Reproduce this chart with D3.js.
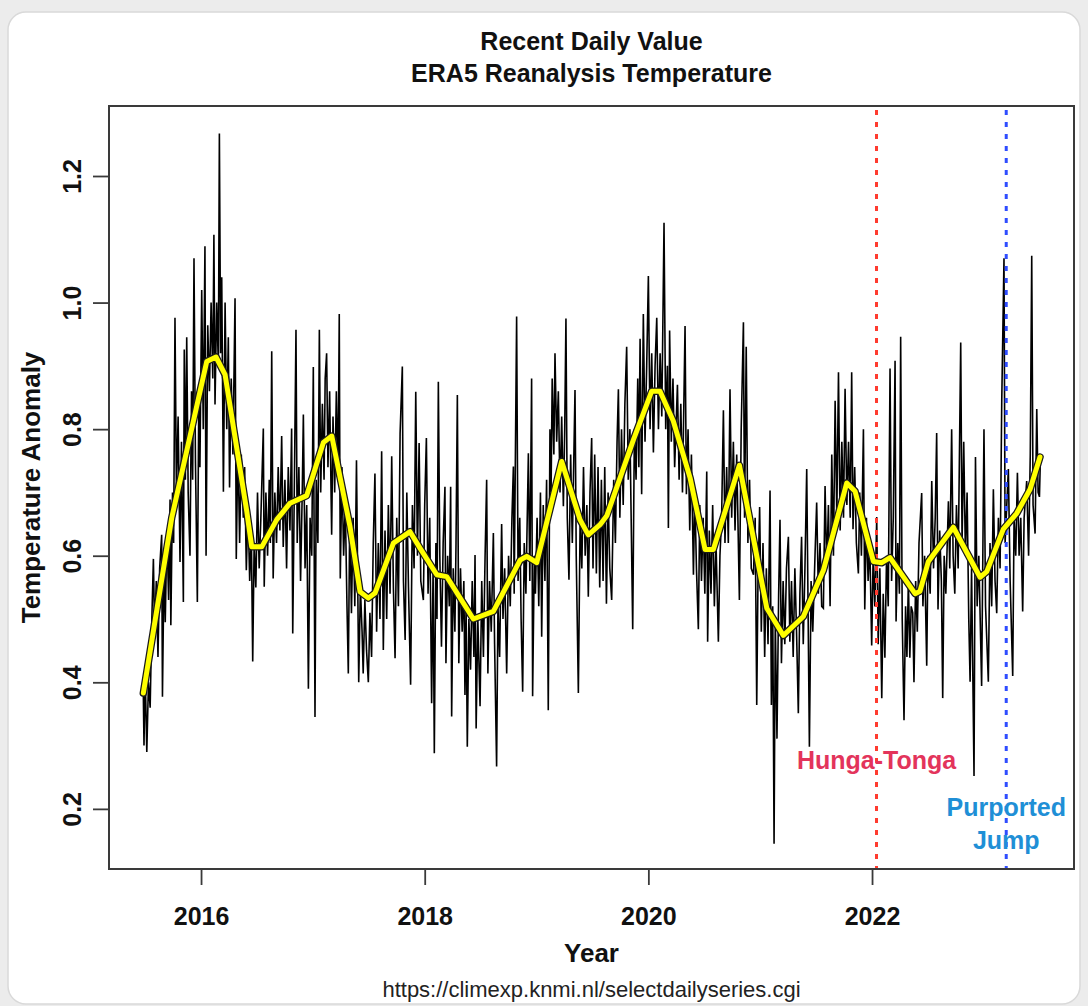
<!DOCTYPE html>
<html>
<head>
<meta charset="utf-8">
<script src="https://cdn.jsdelivr.net/npm/d3@7"></script>
<style>
  html, body { margin: 0; padding: 0; background: #ececec; }
  svg { display: block; }
</style>
</head>
<body>
<svg id="chart" width="1088" height="1006"></svg>
<script>
// ---------- data ----------
const titleLines = ["Recent Daily Value", "ERA5 Reanalysis Temperature"];
const xLabel = "Year";
const yLabel = "Temperature Anomaly";
const sourceText = "https://climexp.knmi.nl/selectdailyseries.cgi";
const xTicks = [2016, 2018, 2020, 2022];
const yTicks = [0.2, 0.4, 0.6, 0.8, 1.0, 1.2];
const events = [
  { year: 2022.04, label: ["Hunga-Tonga"], line: "#ff3b2f", text: "#e3345b" },
  { year: 2023.20, label: ["Purported", "Jump"], line: "#2f4dff", text: "#1f8fd6" }
];

// daily anomaly (decimal year, value), peaks and troughs read per year
const daily2015 = [[2015.484,0.38],[2015.49,0.30],[2015.50,0.42],[2015.515,0.29],[2015.53,0.40],[2015.545,0.36],[2015.56,0.50],[2015.574,0.595],[2015.585,0.477],[2015.60,0.56],[2015.615,0.44],[2015.63,0.58],[2015.648,0.633],[2015.655,0.377],[2015.67,0.60],[2015.68,0.495],[2015.695,0.64],[2015.71,0.53],[2015.723,0.689],[2015.73,0.49],[2015.745,0.70],[2015.755,0.62],[2015.767,0.976],[2015.78,0.70],[2015.795,0.82],[2015.812,0.59],[2015.825,0.78],[2015.842,0.527],[2015.85,0.926],[2015.86,0.72],[2015.872,0.945],[2015.885,0.70],[2015.901,0.60],[2015.915,0.86],[2015.925,0.72],[2015.937,1.07],[2015.95,0.75],[2015.967,0.527],[2015.98,0.85],[2015.99,0.74]];
const daily2016 = [[2016.006,1.02],[2016.02,0.80],[2016.035,1.089],[2016.045,0.60],[2016.06,0.964],[2016.075,0.86],[2016.09,1.00],[2016.105,0.88],[2016.115,1.107],[2016.125,0.839],[2016.14,1.00],[2016.155,0.90],[2016.164,1.267],[2016.175,0.92],[2016.185,1.04],[2016.20,0.701],[2016.215,1.00],[2016.23,0.80],[2016.244,0.945],[2016.255,0.708],[2016.27,0.88],[2016.285,0.76],[2016.304,1.007],[2016.315,0.595],[2016.33,0.78],[2016.345,0.62],[2016.36,0.76],[2016.378,0.66],[2016.39,0.74],[2016.405,0.577],[2016.42,0.68],[2016.435,0.56],[2016.45,0.633],[2016.462,0.433],[2016.475,0.62],[2016.49,0.55],[2016.505,0.70],[2016.52,0.58],[2016.535,0.66],[2016.557,0.801],[2016.565,0.551],[2016.58,0.70],[2016.595,0.60],[2016.61,0.72],[2016.62,0.62],[2016.632,0.923],[2016.645,0.564],[2016.66,0.70],[2016.675,0.62],[2016.69,0.74],[2016.705,0.64],[2016.721,0.789],[2016.735,0.614],[2016.75,0.72],[2016.765,0.58],[2016.78,0.74],[2016.795,0.64],[2016.81,0.801],[2016.82,0.477],[2016.835,0.72],[2016.849,0.957],[2016.86,0.62],[2016.875,0.74],[2016.89,0.56],[2016.905,0.70],[2016.915,0.823],[2016.93,0.58],[2016.945,0.68],[2016.96,0.39],[2016.975,0.66],[2016.99,0.60]];
const daily2017 = [[2017.004,0.898],[2017.019,0.345],[2017.03,0.72],[2017.045,0.62],[2017.058,0.957],[2017.07,0.70],[2017.085,0.84],[2017.10,0.72],[2017.11,0.88],[2017.123,0.92],[2017.135,0.74],[2017.15,0.86],[2017.168,0.633],[2017.18,0.82],[2017.195,0.70],[2017.21,0.86],[2017.225,0.72],[2017.236,0.982],[2017.245,0.564],[2017.26,0.74],[2017.275,0.60],[2017.29,0.68],[2017.305,0.52],[2017.317,0.414],[2017.33,0.667],[2017.345,0.509],[2017.36,0.66],[2017.375,0.52],[2017.39,0.751],[2017.41,0.40],[2017.425,0.55],[2017.44,0.48],[2017.45,0.414],[2017.465,0.53],[2017.48,0.45],[2017.496,0.40],[2017.51,0.51],[2017.525,0.44],[2017.54,0.62],[2017.555,0.73],[2017.57,0.48],[2017.585,0.62],[2017.60,0.50],[2017.615,0.765],[2017.63,0.451],[2017.645,0.64],[2017.66,0.50],[2017.675,0.68],[2017.69,0.54],[2017.705,0.757],[2017.72,0.55],[2017.735,0.438],[2017.75,0.66],[2017.765,0.52],[2017.78,0.793],[2017.80,0.899],[2017.81,0.56],[2017.825,0.467],[2017.84,0.70],[2017.855,0.55],[2017.874,0.396],[2017.89,0.68],[2017.905,0.58],[2017.92,0.859],[2017.935,0.60],[2017.95,0.778],[2017.965,0.56],[2017.988,0.53]];
const daily2018 = [[2018.0,0.68],[2018.015,0.786],[2018.03,0.54],[2018.045,0.66],[2018.062,0.367],[2018.075,0.58],[2018.086,0.288],[2018.10,0.62],[2018.11,0.50],[2018.122,0.875],[2018.135,0.60],[2018.15,0.456],[2018.165,0.62],[2018.181,0.709],[2018.19,0.43],[2018.205,0.60],[2018.22,0.52],[2018.232,0.709],[2018.241,0.346],[2018.255,0.58],[2018.27,0.48],[2018.28,0.62],[2018.292,0.854],[2018.305,0.43],[2018.32,0.58],[2018.335,0.48],[2018.35,0.56],[2018.36,0.38],[2018.37,0.52],[2018.381,0.298],[2018.395,0.50],[2018.41,0.42],[2018.425,0.56],[2018.44,0.44],[2018.45,0.601],[2018.46,0.327],[2018.475,0.50],[2018.495,0.362],[2018.51,0.56],[2018.525,0.44],[2018.54,0.60],[2018.554,0.72],[2018.565,0.414],[2018.58,0.56],[2018.595,0.48],[2018.614,0.636],[2018.625,0.46],[2018.643,0.267],[2018.655,0.52],[2018.67,0.44],[2018.688,0.65],[2018.70,0.50],[2018.715,0.58],[2018.733,0.414],[2018.75,0.60],[2018.765,0.52],[2018.78,0.66],[2018.793,0.741],[2018.80,0.54],[2018.822,0.978],[2018.835,0.56],[2018.85,0.66],[2018.862,0.50],[2018.876,0.385],[2018.89,0.62],[2018.905,0.54],[2018.927,0.762],[2018.94,0.56],[2018.956,0.88],[2018.965,0.378],[2018.98,0.60],[2018.99,0.54]];
const daily2019 = [[2019.005,0.66],[2019.02,0.52],[2019.035,0.70],[2019.046,0.472],[2019.06,0.68],[2019.075,0.56],[2019.09,0.72],[2019.105,0.356],[2019.12,0.80],[2019.13,0.70],[2019.14,0.88],[2019.155,0.76],[2019.165,0.92],[2019.18,0.78],[2019.195,0.86],[2019.21,0.70],[2019.225,0.82],[2019.24,0.678],[2019.252,0.80],[2019.263,0.975],[2019.275,0.66],[2019.29,0.562],[2019.305,0.76],[2019.32,0.62],[2019.344,0.862],[2019.355,0.60],[2019.374,0.383],[2019.39,0.66],[2019.405,0.58],[2019.42,0.74],[2019.435,0.60],[2019.45,0.68],[2019.463,0.535],[2019.478,0.70],[2019.493,0.786],[2019.505,0.58],[2019.52,0.76],[2019.535,0.572],[2019.55,0.74],[2019.565,0.55],[2019.58,0.72],[2019.595,0.56],[2019.61,0.74],[2019.625,0.524],[2019.64,0.70],[2019.655,0.58],[2019.672,0.53],[2019.69,0.72],[2019.705,0.62],[2019.72,0.78],[2019.732,0.863],[2019.745,0.66],[2019.76,0.80],[2019.775,0.68],[2019.79,0.84],[2019.806,0.93],[2019.82,0.72],[2019.835,0.80],[2019.86,0.484],[2019.875,0.80],[2019.89,0.72],[2019.905,0.88],[2019.915,0.74],[2019.926,0.943],[2019.94,0.697],[2019.955,0.982],[2019.97,0.78],[2019.985,0.90]];
const daily2020 = [[2020.0,1.042],[2020.015,0.80],[2020.03,0.92],[2020.045,0.763],[2020.06,0.90],[2020.075,0.976],[2020.09,0.80],[2020.105,0.92],[2020.12,0.82],[2020.14,1.126],[2020.155,0.80],[2020.17,0.90],[2020.179,0.644],[2020.19,0.956],[2020.205,0.78],[2020.22,0.88],[2020.235,0.74],[2020.26,0.87],[2020.275,0.72],[2020.29,0.84],[2020.305,0.70],[2020.328,0.963],[2020.34,0.697],[2020.355,0.80],[2020.37,0.64],[2020.385,0.76],[2020.403,0.57],[2020.415,0.70],[2020.43,0.58],[2020.447,0.484],[2020.46,0.68],[2020.475,0.56],[2020.49,0.66],[2020.505,0.54],[2020.522,0.733],[2020.53,0.464],[2020.545,0.64],[2020.56,0.54],[2020.575,0.68],[2020.59,0.52],[2020.605,0.62],[2020.626,0.464],[2020.64,0.60],[2020.655,0.66],[2020.671,0.83],[2020.685,0.62],[2020.70,0.74],[2020.715,0.62],[2020.73,0.863],[2020.745,0.66],[2020.76,0.78],[2020.775,0.64],[2020.79,0.76],[2020.814,0.53],[2020.83,0.80],[2020.85,0.969],[2020.86,0.66],[2020.875,0.93],[2020.89,0.62],[2020.905,0.72],[2020.92,0.58],[2020.94,0.57],[2020.955,0.66],[2020.969,0.364],[2020.98,0.56],[2020.995,0.677]];
const daily2021 = [[2021.01,0.48],[2021.025,0.62],[2021.04,0.44],[2021.055,0.58],[2021.07,0.46],[2021.088,0.703],[2021.10,0.364],[2021.112,0.52],[2021.124,0.145],[2021.135,0.50],[2021.15,0.311],[2021.165,0.54],[2021.177,0.657],[2021.19,0.43],[2021.205,0.56],[2021.22,0.46],[2021.235,0.58],[2021.252,0.63],[2021.265,0.464],[2021.28,0.56],[2021.295,0.44],[2021.31,0.58],[2021.325,0.48],[2021.341,0.351],[2021.355,0.54],[2021.37,0.63],[2021.385,0.46],[2021.40,0.58],[2021.416,0.737],[2021.44,0.298],[2021.455,0.56],[2021.47,0.48],[2021.49,0.60],[2021.505,0.684],[2021.52,0.54],[2021.535,0.62],[2021.55,0.52],[2021.565,0.517],[2021.58,0.71],[2021.595,0.58],[2021.61,0.68],[2021.625,0.52],[2021.64,0.76],[2021.655,0.60],[2021.67,0.845],[2021.685,0.66],[2021.70,0.89],[2021.715,0.64],[2021.73,0.78],[2021.745,0.66],[2021.759,0.864],[2021.775,0.68],[2021.79,0.78],[2021.805,0.66],[2021.818,0.89],[2021.83,0.642],[2021.845,0.74],[2021.86,0.62],[2021.878,0.572],[2021.89,0.70],[2021.905,0.60],[2021.923,0.80],[2021.935,0.515],[2021.95,0.66],[2021.965,0.56],[2021.98,0.62],[2021.997,0.458]];
const daily2022 = [[2022.01,0.60],[2022.025,0.52],[2022.042,0.661],[2022.055,0.46],[2022.07,0.58],[2022.087,0.375],[2022.10,0.54],[2022.115,0.439],[2022.13,0.60],[2022.145,0.52],[2022.161,0.896],[2022.175,0.56],[2022.19,0.66],[2022.206,0.908],[2022.215,0.496],[2022.23,0.62],[2022.245,0.54],[2022.256,0.946],[2022.27,0.50],[2022.286,0.34],[2022.30,0.52],[2022.312,0.44],[2022.325,0.56],[2022.338,0.439],[2022.35,0.52],[2022.364,0.51],[2022.375,0.40],[2022.39,0.56],[2022.405,0.48],[2022.42,0.62],[2022.444,0.699],[2022.455,0.52],[2022.47,0.60],[2022.489,0.426],[2022.50,0.60],[2022.52,0.54],[2022.534,0.718],[2022.55,0.58],[2022.565,0.66],[2022.578,0.794],[2022.59,0.515],[2022.605,0.64],[2022.62,0.56],[2022.632,0.375],[2022.645,0.60],[2022.66,0.54],[2022.683,0.686],[2022.695,0.58],[2022.712,0.80],[2022.725,0.60],[2022.74,0.54],[2022.755,0.68],[2022.77,0.58],[2022.793,0.937],[2022.805,0.62],[2022.82,0.78],[2022.835,0.60],[2022.85,0.70],[2022.865,0.50],[2022.877,0.401],[2022.89,0.58],[2022.912,0.252],[2022.925,0.756],[2022.94,0.52],[2022.955,0.60],[2022.98,0.394]];
const daily2023 = [[2023.001,0.80],[2023.015,0.52],[2023.04,0.401],[2023.055,0.62],[2023.07,0.52],[2023.085,0.705],[2023.10,0.56],[2023.115,0.509],[2023.13,0.66],[2023.145,0.58],[2023.16,0.845],[2023.18,1.07],[2023.19,0.62],[2023.205,0.68],[2023.219,0.737],[2023.235,0.56],[2023.258,0.41],[2023.27,0.66],[2023.285,0.60],[2023.30,0.731],[2023.315,0.60],[2023.33,0.66],[2023.347,0.512],[2023.36,0.66],[2023.383,0.718],[2023.40,0.60],[2023.415,0.76],[2023.428,1.074],[2023.44,0.68],[2023.458,0.635],[2023.473,0.832],[2023.485,0.70],[2023.497,0.693],[2023.505,0.75]];

// smoothed curve (yellow), vertices
const smoothYears = [2015.484,2015.738,2016.051,2016.134,2016.215,2016.409,2016.453,2016.543,2016.677,2016.796,2016.945,2017.094,2017.169,2017.332,2017.422,2017.496,2017.556,2017.720,2017.869,2017.958,2018.108,2018.197,2018.435,2018.614,2018.853,2018.912,2019.002,2019.225,2019.389,2019.463,2019.568,2019.628,2019.866,2020.030,2020.104,2020.223,2020.373,2020.507,2020.581,2020.814,2021.059,2021.207,2021.386,2021.565,2021.774,2021.848,2022.012,2022.087,2022.161,2022.385,2022.429,2022.504,2022.727,2022.966,2023.026,2023.174,2023.294,2023.413,2023.502];
const smoothValues = [0.383,0.66,0.907,0.914,0.886,0.670,0.614,0.614,0.657,0.683,0.695,0.779,0.789,0.646,0.543,0.533,0.541,0.620,0.638,0.612,0.570,0.567,0.500,0.512,0.593,0.599,0.589,0.749,0.657,0.633,0.649,0.663,0.783,0.860,0.860,0.813,0.723,0.610,0.610,0.743,0.517,0.474,0.504,0.577,0.715,0.702,0.591,0.589,0.597,0.540,0.544,0.591,0.645,0.566,0.575,0.642,0.667,0.705,0.756];

// ---------- drawing ----------
const svg = d3.select("#chart");
const plot = { left: 109, right: 1074, top: 106, bottom: 869 };
const FONT = "'Liberation Sans', Arial, Helvetica, sans-serif";

// card background
svg.append("rect").attr("x", 8).attr("y", 12).attr("width", 1072).attr("height", 992)
  .attr("rx", 18).attr("fill", "#ffffff").attr("stroke", "#d9d9d9").attr("stroke-width", 1.5);

const x = d3.scaleLinear().domain([2015.177, 2023.806]).range([plot.left, plot.right]);
const y = d3.scaleLinear().domain([0.105, 1.3106]).range([plot.bottom, plot.top]);

const daily = [].concat(daily2015, daily2016, daily2017, daily2018, daily2019,
                        daily2020, daily2021, daily2022, daily2023);
const smooth = smoothYears.map((t, i) => [t, smoothValues[i]]);

const line = d3.line().x(d => x(d[0])).y(d => y(d[1]));

// daily series
svg.append("path").datum(daily).attr("d", line)
  .attr("fill", "none").attr("stroke", "#000").attr("stroke-width", 1.6)
  .attr("stroke-linejoin", "miter");

// event lines
events.forEach(ev => {
  svg.append("line")
    .attr("x1", x(ev.year)).attr("x2", x(ev.year))
    .attr("y1", plot.top + 4).attr("y2", plot.bottom)
    .attr("stroke", ev.line).attr("stroke-width", 3)
    .attr("stroke-dasharray", "5,7");
});

// smoothed series: dark outline + yellow
svg.append("path").datum(smooth).attr("d", line)
  .attr("fill", "none").attr("stroke", "#1a1a1a").attr("stroke-width", 7.5)
  .attr("stroke-linejoin", "round").attr("stroke-linecap", "round");
svg.append("path").datum(smooth).attr("d", line)
  .attr("fill", "none").attr("stroke", "#ffff00").attr("stroke-width", 5)
  .attr("stroke-linejoin", "round").attr("stroke-linecap", "round");

// event labels
events.forEach((ev, i) => {
  const yStart = i === 0 ? y(0.277) : y(0.202);
  ev.label.forEach((txt, j) => {
    svg.append("text").attr("x", x(ev.year)).attr("y", yStart + j * 33)
      .attr("dy", "0.35em").attr("text-anchor", "middle")
      .attr("font-family", FONT).attr("font-weight", "bold").attr("font-size", 25)
      .attr("fill", ev.text).text(txt);
  });
});

// box
svg.append("rect").attr("x", plot.left).attr("y", plot.top)
  .attr("width", plot.right - plot.left).attr("height", plot.bottom - plot.top)
  .attr("fill", "none").attr("stroke", "#3a3a3a").attr("stroke-width", 2);

// x axis
const xAxis = d3.axisBottom(x).tickValues(xTicks).tickFormat(d3.format("d"))
  .tickSize(16).tickPadding(22);
const gx = svg.append("g").attr("transform", `translate(0,${plot.bottom})`).call(xAxis);
gx.select(".domain").remove();
gx.selectAll(".tick line").attr("stroke", "#3a3a3a").attr("stroke-width", 1.8);
gx.selectAll(".tick text").attr("font-family", FONT).attr("font-weight", "bold")
  .attr("font-size", 25).attr("fill", "#111").attr("dy", "0.71em");

// y axis (labels rotated, parallel to axis)
const yAxis = d3.axisLeft(y).tickValues(yTicks).tickFormat(d3.format(".1f")).tickSize(16);
const gy = svg.append("g").attr("transform", `translate(${plot.left},0)`).call(yAxis);
gy.select(".domain").remove();
gy.selectAll(".tick line").attr("stroke", "#3a3a3a").attr("stroke-width", 1.8);
gy.selectAll(".tick text")
  .attr("x", null)
  .attr("transform", "translate(-37,0) rotate(-90)")
  .attr("text-anchor", "middle").attr("dy", "0.36em")
  .attr("font-family", FONT).attr("font-weight", "bold")
  .attr("font-size", 25).attr("fill", "#111");

// titles
titleLines.forEach((t, i) => {
  svg.append("text").attr("x", (plot.left + plot.right) / 2).attr("y", 41 + i * 32)
    .attr("dy", "0.35em").attr("text-anchor", "middle")
    .attr("font-family", FONT).attr("font-weight", "bold").attr("font-size", 25)
    .attr("fill", "#111").text(t);
});

svg.append("text").attr("x", (plot.left + plot.right) / 2).attr("y", 953)
  .attr("dy", "0.35em").attr("text-anchor", "middle")
  .attr("font-family", FONT).attr("font-weight", "bold").attr("font-size", 26)
  .attr("fill", "#111").text(xLabel);

svg.append("text")
  .attr("transform", `translate(31,${(plot.top + plot.bottom) / 2}) rotate(-90)`)
  .attr("dy", "0.35em").attr("text-anchor", "middle")
  .attr("font-family", FONT).attr("font-weight", "bold").attr("font-size", 26)
  .attr("fill", "#111").text(yLabel);

svg.append("text").attr("x", (plot.left + plot.right) / 2).attr("y", 989)
  .attr("dy", "0.35em").attr("text-anchor", "middle")
  .attr("font-family", FONT).attr("font-size", 22)
  .attr("fill", "#222").text(sourceText);
</script>
</body>
</html>
